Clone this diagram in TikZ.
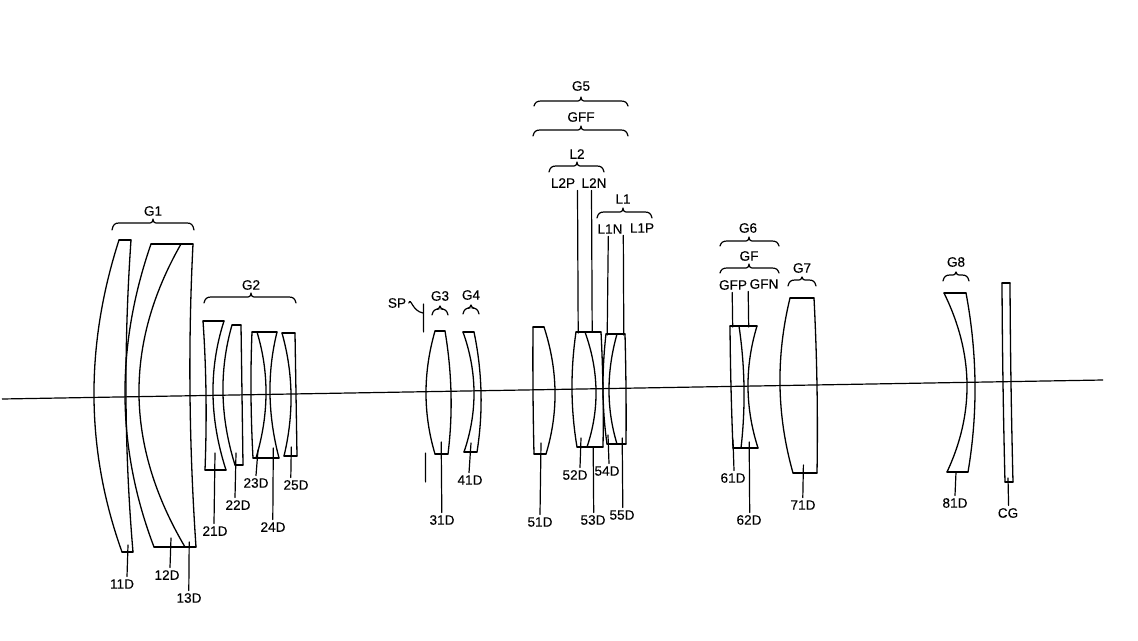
\documentclass[tikz,border=0pt]{standalone}
\usepackage{fontspec}
\newfontfamily\lblfont[FakeBold=0.15]{Liberation Sans}
\tikzset{
  lensline/.style={draw=black,line width=1.3pt,line cap=round,line join=round},
  leadline/.style={draw=black,line width=1.2pt,line cap=round},
  bracket/.style={draw=black,line width=1.2pt,line cap=round,line join=round},
  lbl/.style={inner sep=2.5pt,font=\lblfont\fontsize{13.6}{15}\selectfont,text=black}
}
% quadratic surface from top (#1,#2) through middle (#3,#4) to bottom (#5,#6)
\newcommand\surf[6]{%
  \pgfmathsetmacro\sCx{2*#3-(#1+#5)/2}%
  \pgfmathsetmacro\sCy{2*#4-(#2+#6)/2}%
  \pgfmathsetmacro\sAx{#1+2/3*(\sCx-#1)}%
  \pgfmathsetmacro\sAy{#2+2/3*(\sCy-#2)}%
  \pgfmathsetmacro\sBx{#5+2/3*(\sCx-#5)}%
  \pgfmathsetmacro\sBy{#6+2/3*(\sCy-#6)}%
  \draw[lensline] (#1,#2) .. controls (\sAx,\sAy) and (\sBx,\sBy) .. (#5,#6);}
\newcommand\edge[3]{\draw[lensline] (#1,#3) -- (#2,#3);}
% brace: x1, xmid, x2, y, end drop, tip rise
\newcommand\brc[6]{%
  \draw[bracket] (#1,#4+#5) .. controls (#1+1,#4+1.5) and (#1+3,#4) .. (#1+7,#4)
    -- (#2-3,#4) .. controls (#2-1.5,#4) and (#2-0.6,#4-0.6) .. (#2,#4-#6)
    .. controls (#2+0.6,#4-0.6) and (#2+1.5,#4) .. (#2+3,#4)
    -- (#3-7,#4) .. controls (#3-3,#4) and (#3-1,#4+1.5) .. (#3,#4+#5);}
% leader with label: name, label pos, text, start pos, end x, label anchor
\newcommand\lab[6]{%
  \node[lbl] (#1) at (#2) {#3};
  \coordinate (#1a) at (#4);
  \draw[leadline] (#1a) -- (#5,0 |- #1.#6);}
\begin{document}
\begin{tikzpicture}[x=1pt,y=-1pt]
\useasboundingbox (0,0) rectangle (1138,640);
% axis
\coordinate (axisL) at (2,399);
\coordinate (axisR) at (1103,380);
\draw[draw=black,line width=1.2pt] (axisL) -- (axisR);

% G1
\surf{119}{240}{94}{398}{122}{552}
\surf{131}{240}{126}{398}{133}{552}
\edge{119}{131}{240}\edge{122}{133}{552}
\surf{151}{244}{125}{397}{154}{547}
\surf{181}{244}{139}{395}{185}{547}
\surf{193}{244}{190}{394}{196}{547}
\edge{151}{193}{244}\edge{154}{196}{547}
% G2
\surf{203}{321}{206}{394}{205}{470}
\surf{224}{321}{213}{394}{226}{470}
\edge{203}{224}{321}\edge{205}{226}{470}
\surf{232}{325}{223}{394}{235}{465}
\surf{241}{325}{242}{394}{243}{465}
\edge{232}{241}{325}\edge{235}{243}{465}
\surf{252}{332}{251}{394}{253}{458}
\surf{257}{332}{266}{394}{256}{458}
\surf{277}{332}{270}{394}{279}{458}
\edge{252}{277}{332}\edge{253}{279}{458}
\surf{282}{333}{291}{394}{284}{456}
\surf{295}{333}{296}{394}{297}{456}
\edge{282}{295}{333}\edge{284}{297}{456}
% G3, G4
\surf{435}{331}{426}{393}{435}{454}
\surf{445}{331}{451}{393}{448}{454}
\edge{435}{445}{331}\edge{435}{448}{454}
\surf{463}{332}{474}{392}{464}{452}
\surf{474}{332}{481}{392}{477}{452}
\edge{463}{474}{332}\edge{464}{477}{452}
% G5
\surf{533}{327}{533}{391}{534}{454}
\surf{544}{327}{555}{391}{546}{454}
\edge{533}{544}{327}\edge{534}{546}{454}
\surf{576}{332}{572}{390}{577}{447}
\surf{585}{332}{596}{390}{587}{447}
\surf{601}{332}{603}{390}{603}{447}
\edge{576}{601}{332}\edge{577}{603}{447}
\surf{606}{334}{603}{390}{607}{444}
\surf{617}{334}{609}{390}{617}{444}
\surf{625}{334}{626}{390}{626}{444}
\edge{606}{625}{334}\edge{607}{626}{444}
% G6
\surf{730}{326}{731}{387}{733}{448}
\surf{739}{326}{744}{387}{741}{448}
\surf{757}{326}{748}{387}{758}{448}
\edge{730}{757}{326}\edge{733}{758}{448}
% G7
\surf{790}{298}{780}{386}{793}{473}
\surf{814}{298}{817}{386}{817}{473}
\edge{790}{814}{298}\edge{793}{817}{473}
% G8
\surf{944}{293}{967}{383}{947}{472}
\surf{966}{293}{975}{383}{968}{472}
\edge{944}{966}{293}\edge{947}{968}{472}
% CG
\surf{1002}{283}{1003}{383}{1005}{482}
\surf{1010}{283}{1011}{383}{1013}{482}
\edge{1002}{1010}{283}\edge{1005}{1013}{482}

% stop
\coordinate (spTop) at (423.4,304);
\coordinate (spBot) at (423.6,332);
\coordinate (spLowTop) at (425.4,453);
\coordinate (spLowBot) at (425.6,482);
\draw[leadline] (spTop) -- (spBot);
\draw[leadline] (spLowTop) -- (spLowBot);
\node[lbl] (sp) at (397,303) {SP};
\coordinate (spEnd) at (423,313);
\draw[leadline] (sp.east) .. controls (411,297) and (412,311) .. (spEnd);

% braces
\brc{112}{153}{194}{223}{7}{4}
\brc{204}{251}{296}{297}{6}{4}
\brc{432}{440}{448}{309}{6}{3}
\brc{463}{471}{479}{308}{6}{3}
\brc{534}{581}{628}{101}{5}{4}
\brc{533}{581}{628}{130}{6}{4}
\brc{549}{577}{604}{166}{6}{4}
\brc{597}{623}{652}{212}{6}{4}
\brc{720}{749}{779}{241}{5}{4}
\brc{720}{749}{779}{268}{5}{4}
\brc{788}{802}{816}{280}{6}{3}
\brc{943}{956}{969}{275}{6}{3}

% group labels
\node[lbl] (G1) at (153,211) {G1};
\node[lbl] (G2) at (251,285) {G2};
\node[lbl] (G3) at (440,296) {G3};
\node[lbl] (G4) at (471,295) {G4};
\node[lbl] (G5) at (581,86) {G5};
\node[lbl] (GFF) at (581,117) {GFF};
\node[lbl] (L2) at (577,154) {L2};
\node[lbl] (L1) at (623,199) {L1};
\node[lbl] (G6) at (748,228) {G6};
\node[lbl] (GF) at (749,256) {GF};
\node[lbl] (G7) at (802,268) {G7};
\node[lbl] (G8) at (956,262) {G8};

% top leaders
\lab{LtwoP}{563,183}{L2P}{578.2,333}{577.5}{south}
\lab{LtwoN}{594,183}{L2N}{592.2,332}{591.5}{south}
\lab{LoneN}{610,229}{L1N}{607.2,335}{608.3}{south}
\lab{LoneP}{642,228}{L1P}{623.8,335}{623.3}{south}
\lab{GFP}{733,285}{GFP}{732.7,327}{732.2}{south}
\lab{GFN}{764,284}{GFN}{748.7,327}{748.2}{south}

% bottom leaders
\lab{a}{122,584}{11D}{128,545}{127}{north}
\lab{b}{167,575}{12D}{171,538}{170}{north}
\lab{c}{189,598}{13D}{189.2,542}{188.8}{north}
\lab{d}{215,531}{21D}{215,453}{214}{north}
\lab{e}{238,505}{22D}{236,453}{235}{north}
\lab{f}{256,483}{23D}{258,450}{256}{north}
\lab{g}{273,527}{24D}{273.3,448}{272.8}{north}
\lab{h}{296,485}{25D}{291.3,447}{290.8}{north}
\lab{i}{442,520}{31D}{441.2,442}{441.8}{north}
\lab{j}{470,480}{41D}{471,443}{469}{north}
\lab{k}{540,522}{51D}{541,443}{540}{north}
\lab{m}{575,475}{52D}{581,438}{580}{north}
\lab{n}{593,520}{53D}{593.2,448}{593.7}{north}
\lab{o}{607,471}{54D}{608,435}{609}{north}
\lab{p}{622,515}{55D}{622.2,438}{622.8}{north}
\lab{q}{733,478}{61D}{733,440}{734}{north}
\lab{r}{749,520}{62D}{749.2,442}{749.7}{north}
\lab{s}{803,505}{71D}{803.4,465}{802.8}{north}
\lab{t}{955,503}{81D}{956,472}{955}{north}
\lab{u}{1008,513}{CG}{1008,478}{1008.6}{north}
\end{tikzpicture}
\end{document}
